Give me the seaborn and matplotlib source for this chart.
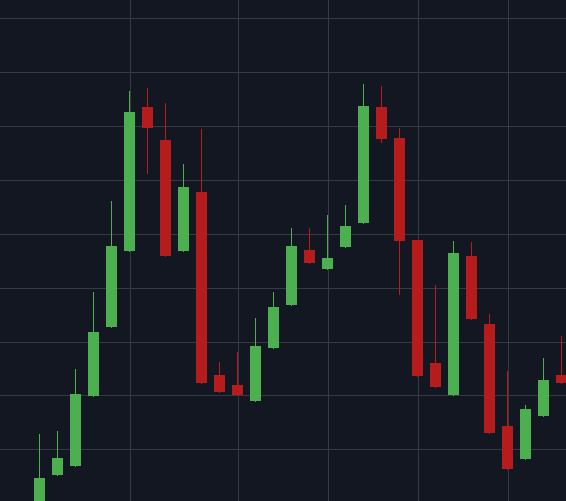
import numpy as np
import pandas as pd
import matplotlib
matplotlib.use("Agg")
import matplotlib.pyplot as plt
import seaborn as sns

# OHLC values (one candle per trading day)
opens = [88.73, 95.23, 96.90, 109.90, 122.70, 136.81, 163.54, 157.41, 136.81, 147.76,
         113.79, 111.94, 108.97, 118.80, 126.79, 137.00, 133.47, 137.55, 142.01, 163.54,
         157.78, 138.85, 116.02, 110.08, 135.88, 123.26, 104.33, 98.20, 106.18, 113.79]
highs = [102.84, 103.40, 114.91, 129.20, 146.09, 166.51, 167.06, 164.28, 152.96, 159.45,
         116.21, 118.06, 124.37, 129.20, 141.08, 141.08, 143.49, 145.35, 167.80, 167.43,
         159.64, 138.85, 130.50, 138.67, 138.48, 125.12, 114.54, 108.22, 116.95, 121.03]
lows = [88.00, 95.23, 96.90, 109.90, 122.70, 136.81, 151.29, 135.88, 136.81, 112.31,
        110.64, 110.08, 108.97, 118.80, 126.79, 134.58, 133.47, 137.55, 142.01, 157.04,
        128.83, 113.61, 111.57, 110.08, 124.19, 103.03, 96.35, 98.20, 106.18, 112.31]
closes = [94.67, 98.39, 110.27, 121.77, 137.74, 162.61, 159.64, 135.88, 148.69, 112.31,
          110.64, 110.08, 119.18, 126.41, 137.74, 134.58, 135.51, 141.45, 163.72, 157.60,
          138.67, 113.61, 111.57, 136.44, 124.19, 103.03, 96.35, 107.48, 112.87, 112.31]

# candles where the vertical grid lines fall
grid_candles = [5, 11, 16, 21, 26]

df = pd.DataFrame({"open": opens, "high": highs, "low": lows, "close": closes})
df["pos"] = np.arange(len(df))
df["up"] = df["close"] >= df["open"]

bg = "#131722"
grid_col = "#363a45"
up_col = "#4caf50"
down_col = "#b71c1c"

sns.set_theme(style="dark", rc={"axes.facecolor": bg, "figure.facecolor": bg})

fig = plt.figure(figsize=(5.66, 5.01), dpi=100)
ax = fig.add_axes([0, 0, 1, 1])

colors = np.where(df["up"], up_col, down_col)

# wicks, 1px wide
ax.vlines(df["pos"] - 0.03, df["low"], df["high"], colors=colors, linewidth=0.72,
          antialiased=False, zorder=2)

# bodies
body_bottom = df[["open", "close"]].min(axis=1)
body_height = (df["open"] - df["close"]).abs()
ax.bar(df["pos"], body_height, bottom=body_bottom, width=0.61, color=colors,
       linewidth=0, zorder=3)

ax.set_xlim(-2.19, 29.25)
ax.set_ylim(90.40, 183.40)

ax.set_yticks(np.arange(100, 181, 10))
ax.set_xticks(np.array(grid_candles) + 0.05)
ax.grid(True, color=grid_col, linewidth=0.72, antialiased=False)
ax.set_axisbelow(True)
ax.tick_params(left=False, bottom=False, labelleft=False, labelbottom=False)
for s in ax.spines.values():
    s.set_visible(False)

fig.savefig("out.png", dpi=100, facecolor=bg)
